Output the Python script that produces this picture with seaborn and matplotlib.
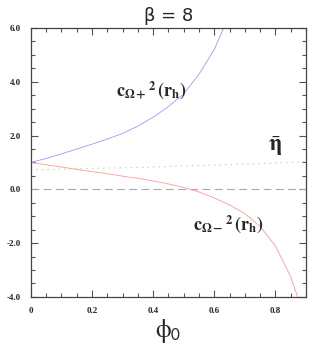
import numpy as np
import pandas as pd
import seaborn as sns
import matplotlib.pyplot as plt
from matplotlib.ticker import MultipleLocator

phi0 = [0.0, 0.05, 0.1, 0.15, 0.2, 0.25, 0.3, 0.35, 0.4, 0.45,
        0.5, 0.55, 0.6, 0.65, 0.7, 0.75, 0.8, 0.85, 0.9]
c_plus = [1.0, 1.15, 1.32, 1.5, 1.68, 1.87, 2.08, 2.35, 2.68, 3.08,
          3.55, 4.28, 5.2, 6.5, None, None, None, None, None]
c_minus = [1.0, 0.91, 0.83, 0.74, 0.66, 0.58, 0.49, 0.41, 0.31, 0.2,
           0.07, -0.1, -0.32, -0.58, -0.9, -1.38, -2.1, -3.25, -4.9]
eta_bar = [0.72, 0.735, 0.75, 0.765, 0.78, 0.79, 0.80, 0.815, 0.83, 0.85,
           0.87, 0.885, 0.90, 0.92, 0.94, 0.96, 0.98, 1.005, 1.03]
zero = [0.0] * len(phi0)

df = pd.DataFrame({'phi0': phi0, 'c_plus': c_plus, 'c_minus': c_minus,
                   'eta': eta_bar, 'zero': zero})

sns.set_style('ticks')
plt.rcParams['mathtext.fontset'] = 'stix'

fig = plt.figure(figsize=(3.19, 3.46), dpi=100)
ax = fig.add_axes([0.097, 0.142, 0.862, 0.777])

sns.lineplot(data=df, x='phi0', y='zero', ax=ax, color='#a8a8a8', lw=0.8,
             linestyle=(0, (7, 4)))
sns.lineplot(data=df, x='phi0', y='eta', ax=ax, color='#9ad49a', lw=0.8,
             linestyle=(0, (1, 4)))
sns.lineplot(data=df.dropna(), x='phi0', y='c_plus', ax=ax, color='#9a9aff', lw=0.6)
sns.lineplot(data=df, x='phi0', y='c_minus', ax=ax, color='#ff9a9a', lw=0.6)

ax.set_xlim(0, 0.9)
ax.set_ylim(-4.0, 6.0)
ax.xaxis.set_minor_locator(MultipleLocator(0.05))
ax.yaxis.set_minor_locator(MultipleLocator(0.5))
ax.set_xticks([0, 0.2, 0.4, 0.6, 0.8])
ax.set_xticklabels(['0', '0.2', '0.4', '0.6', '0.8'])
ax.set_yticks([-4, -2, 0, 2, 4, 6])
ax.set_yticklabels(['-4.0', '-2.0', '0.0', '2.0', '4.0', '6.0'])
ax.tick_params(which='both', direction='in', top=True, right=True,
               color='#555555', width=0.8)
ax.tick_params(which='major', length=5, labelsize=6.5, pad=7)
ax.tick_params(which='minor', length=3)
for lab in ax.get_xticklabels() + ax.get_yticklabels():
    lab.set_fontfamily('Liberation Serif')
    lab.set_fontweight('bold')
for s in ax.spines.values():
    s.set_color('#444444')
    s.set_linewidth(0.9)

ax.set_xlabel(r'$\mathrm{\phi}_{\mathsf{0}}$', fontsize=18, labelpad=2)
ax.set_ylabel('')
ax.set_title('β = 8', fontsize=13, pad=5, fontfamily='DejaVu Sans')

ax.text(0.28, 3.7, r'$\mathbf{c}_{\mathbf{\Omega+}}{}^{\mathbf{2}}\,\mathbf{(r}_{\mathbf{h}}\mathbf{)}$',
        fontsize=13, va='center', ha='left')
ax.text(0.53, -1.3, r'$\mathbf{c}_{\mathbf{\Omega-}}{}^{\mathbf{2}}\,\mathbf{(r}_{\mathbf{h}}\mathbf{)}$',
        fontsize=13, va='center', ha='left')
ax.text(0.80, 1.6, r'$\bar{\mathbf{\eta}}$', fontsize=16, va='center', ha='center')

plt.savefig('out.png', dpi=100)
